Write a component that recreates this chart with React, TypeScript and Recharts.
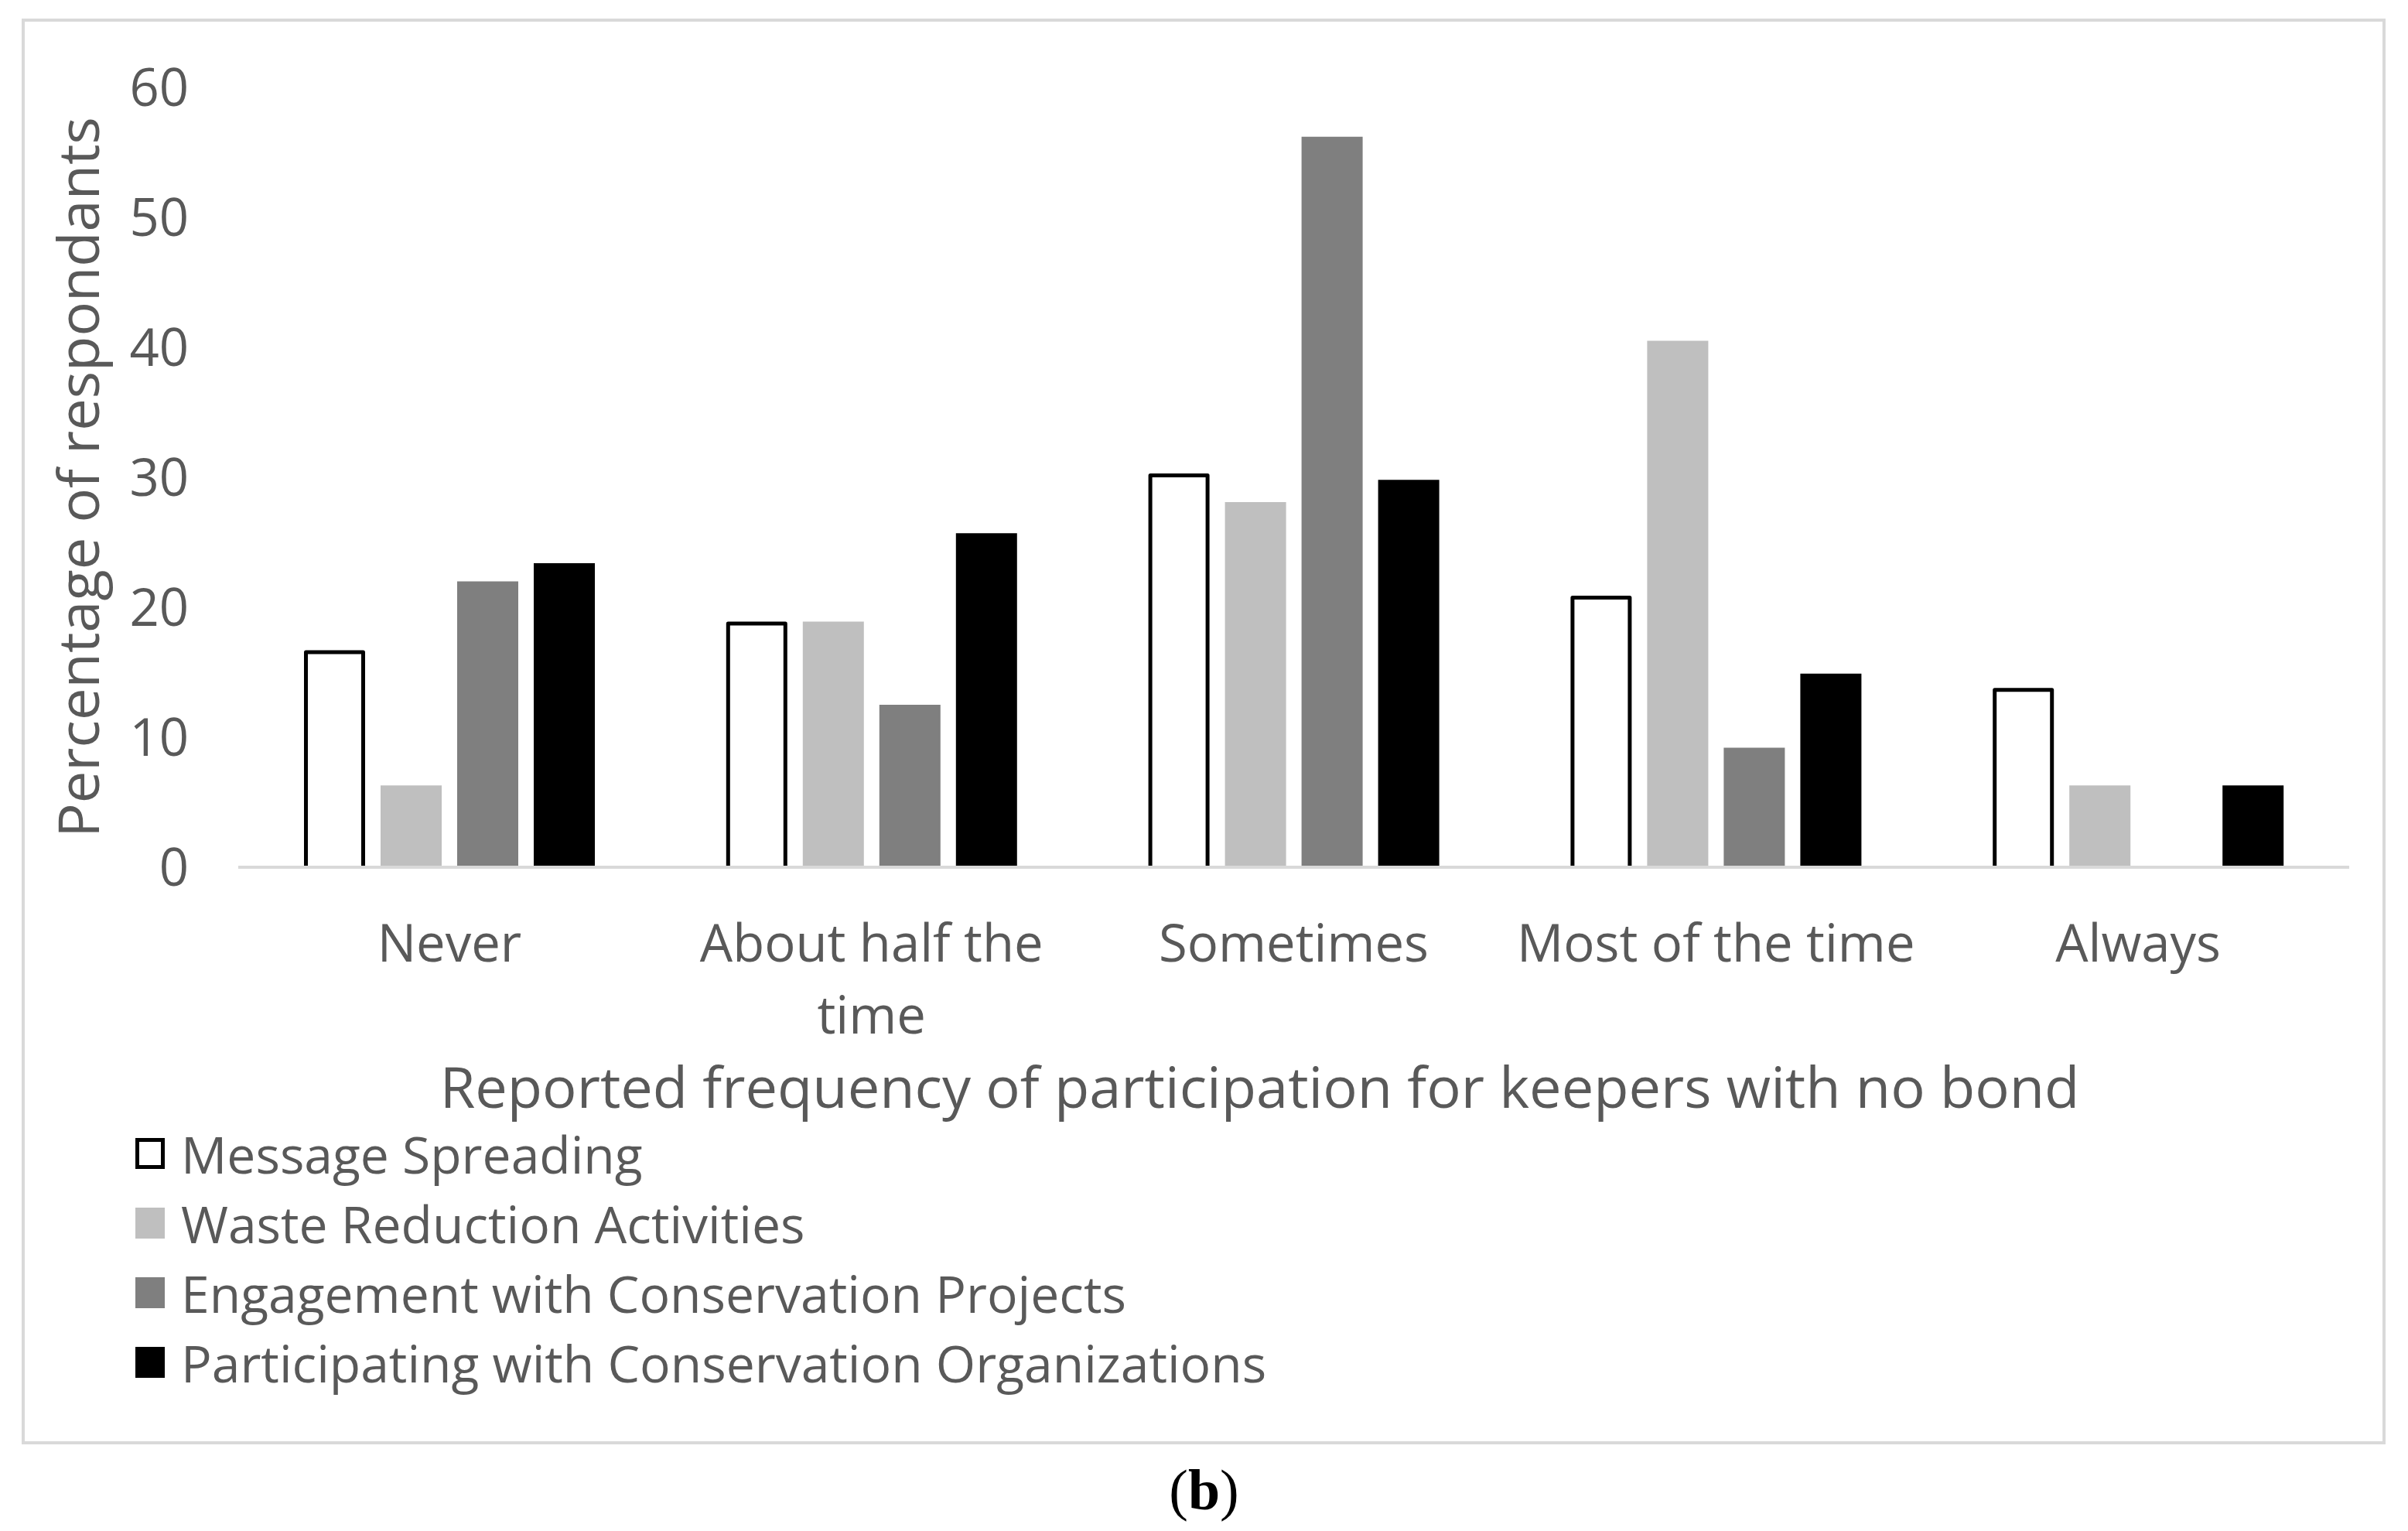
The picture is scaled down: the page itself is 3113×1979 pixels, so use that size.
import React from 'react';
import { BarChart, Bar, XAxis, YAxis, Legend, Label } from 'recharts';

const categories = ['Never', 'About half the time', 'Sometimes', 'Most of the time', 'Always'];
const categoryTickLines = [['Never'], ['About half the', 'time'], ['Sometimes'], ['Most of the time'], ['Always']];
const messageSpreading = [16.7, 18.9, 30.3, 20.9, 13.8];
const wasteReduction = [6.3, 18.9, 28.1, 40.5, 6.3];
const engagementProjects = [22.0, 12.5, 56.2, 9.2, 0];
const participatingOrgs = [23.4, 25.7, 29.8, 14.9, 6.3];
const yTicks = [0, 10, 20, 30, 40, 50, 60];

const seriesOrder = ['message', 'waste', 'engagement', 'participating'];
const seriesNames = {
  message: 'Message Spreading',
  waste: 'Waste Reduction Activities',
  engagement: 'Engagement with Conservation Projects',
  participating: 'Participating with Conservation Organizations',
};

const data = categories.map((c, i) => ({
  category: c,
  message: messageSpreading[i],
  waste: wasteReduction[i],
  engagement: engagementProjects[i],
  participating: participatingOrgs[i],
}));

const FONT = "'Open Sans', 'Noto Sans', sans-serif";
const TEXT = '#595959';

const OutlinedBar = (props: any) => {
  const { x, y, width, height } = props;
  if (!height || height <= 0) return null;
  const sw = 5;
  const l = x + sw / 2;
  const r = x + width - sw / 2;
  const t = y + sw / 2;
  const b = y + height;
  return (
    <g>
      <rect x={x} y={y} width={width} height={height} fill="#ffffff" />
      <path d={`M${l},${b} L${l},${t} L${r},${t} L${r},${b}`} fill="none" stroke="#000" strokeWidth={sw} strokeLinejoin="round" />
    </g>
  );
};

const CategoryTick = (props: any) => {
  const { x, y, payload } = props;
  const idx = categories.indexOf(payload.value);
  const lines = idx >= 0 ? categoryTickLines[idx] : [String(payload.value)];
  return (
    <text x={x} y={y + 74} textAnchor="middle" fontSize={67} fontFamily={FONT} fill={TEXT}>
      {lines.map((line, i) => (
        <tspan key={i} x={x} dy={i === 0 ? '0.71em' : 93}>
          {line}
        </tspan>
      ))}
    </text>
  );
};

const LegendContent = (props: any) => {
  const payload = [...(props.payload || [])].sort(
    (a: any, b: any) => seriesOrder.indexOf(a.dataKey) - seriesOrder.indexOf(b.dataKey)
  );
  return (
    <div style={{ fontFamily: FONT, fontSize: 66, color: TEXT }}>
      {payload.map((entry: any) => {
        const outlined = entry.dataKey === 'message';
        return (
          <div key={entry.value} style={{ display: 'flex', alignItems: 'center', height: 90, whiteSpace: 'nowrap' }}>
            <span
              style={{
                display: 'inline-block',
                width: 38,
                height: 40,
                boxSizing: 'border-box',
                background: outlined ? '#ffffff' : entry.color,
                border: outlined ? '5px solid #000' : 'none',
                marginRight: 21,
              }}
            />
            <span>{entry.value}</span>
          </div>
        );
      })}
    </div>
  );
};

export default function App() {
  return (
    <div style={{ position: 'absolute', left: 0, top: 0, width: 3113, height: 1979, background: '#ffffff' }}>
      <div
        style={{
          position: 'absolute',
          left: 28,
          top: 24,
          width: 3056,
          height: 1843,
          border: '4px solid #d9d9d9',
          boxSizing: 'border-box',
        }}
      />
      <div style={{ position: 'absolute', left: 0, top: 0 }}>
        <BarChart
          width={3113}
          height={1866}
          data={data}
          margin={{ top: 113, right: 76, left: 0, bottom: 345 }}
          barGap={20}
        >
          <XAxis
            dataKey="category"
            height={400}
            tickSize={0}
            tickMargin={0}
            tickLine={false}
            axisLine={{ stroke: '#d9d9d9', strokeWidth: 4 }}
            tick={<CategoryTick />}
            interval={0}
          >
            <Label
              content={(p: any) => {
                const vb = p.viewBox || {};
                return (
                  <text
                    x={vb.x + vb.width / 2 - 44}
                    y={vb.y + 282}
                    textAnchor="middle"
                    dominantBaseline="central"
                    fontSize={74}
                    fontFamily={FONT}
                    fill={TEXT}
                  >
                    Reported frequency of participation for keepers with no bond
                  </text>
                );
              }}
            />
          </XAxis>
          <YAxis
            width={308}
            domain={[0, 60]}
            ticks={yTicks}
            interval={0}
            axisLine={false}
            tickLine={false}
            tickSize={0}
            tickMargin={64}
            tick={{ fontSize: 67, fontFamily: FONT, fill: TEXT }}
          >
            <Label
              content={(p: any) => {
                const vb = p.viewBox || {};
                const cx = vb.x + 99;
                const cy = vb.y + vb.height / 2;
                return (
                  <text
                    x={cx}
                    y={cy}
                    transform={`rotate(-90, ${cx}, ${cy})`}
                    textAnchor="middle"
                    dominantBaseline="central"
                    fontSize={74}
                    fontFamily={FONT}
                    fill={TEXT}
                  >
                    Percentage of respondants
                  </text>
                );
              }}
            />
          </YAxis>
          <Legend
            layout="vertical"
            align="center"
            verticalAlign="middle"
            itemSorter={null as any}
            content={<LegendContent />}
            wrapperStyle={{ left: 175, top: 1446, width: 'auto' }}
          />
          <Bar dataKey="message" name={seriesNames.message} fill="#ffffff" barSize={79} shape={<OutlinedBar />} isAnimationActive={false} />
          <Bar dataKey="waste" name={seriesNames.waste} fill="#bfbfbf" barSize={79} isAnimationActive={false} />
          <Bar dataKey="engagement" name={seriesNames.engagement} fill="#7f7f7f" barSize={79} isAnimationActive={false} />
          <Bar dataKey="participating" name={seriesNames.participating} fill="#000000" barSize={79} isAnimationActive={false} />
        </BarChart>
      </div>
      <div
        style={{
          position: 'absolute',
          left: 0,
          top: 1889,
          width: 3113,
          textAlign: 'center',
          fontFamily: "'Liberation Serif', 'Times New Roman', serif",
          fontSize: 74,
          lineHeight: '74px',
          color: '#000',
        }}
      >
        (<b>b</b>)
      </div>
    </div>
  );
}
